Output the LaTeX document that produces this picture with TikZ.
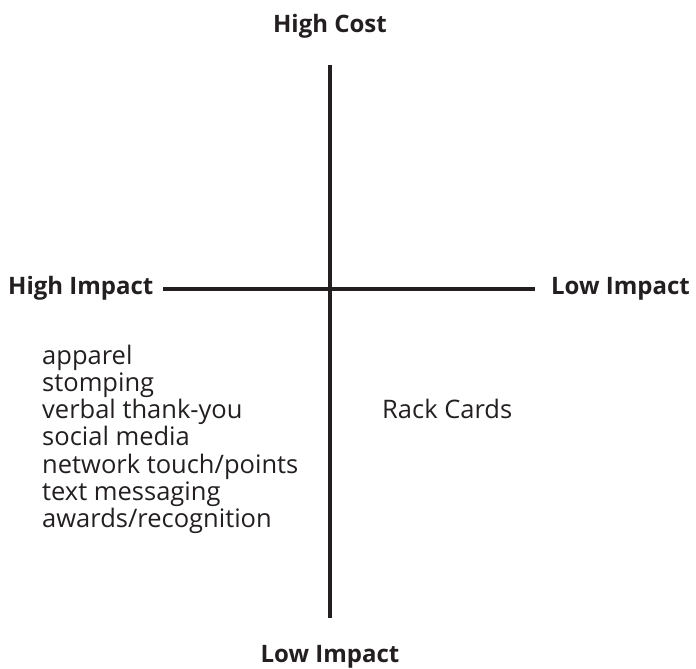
\documentclass[tikz,border=0pt]{standalone}
\usepackage{fontspec}
\setmainfont{Open Sans}
\definecolor{ink}{HTML}{231F20}
\begin{document}
\begin{tikzpicture}[x=1pt,y=-1pt,
  axis/.style={line width=4.2pt, draw=ink},
  head/.style={font=\fontsize{24}{28}\selectfont\bfseries, text=ink, inner sep=0pt},
  item/.style={font=\fontsize{25.5}{28}\selectfont, text=ink, inner sep=0pt, anchor=base west}]
\useasboundingbox (0,0) rectangle (696,669);
\coordinate (vt) at (330,65);
\coordinate (vb) at (330,618);
\coordinate (hl) at (163,289);
\coordinate (hr) at (535,289);
\draw[axis] (vt) -- (vb);
\draw[axis] (hl) -- (hr);
\node[head, anchor=base] (hc) at (330,33) {High Cost};
\node[head, anchor=base west] (hi) at (8,294) {High Impact};
\node[head, anchor=base east] (li) at (690,294) {Low Impact};
\node[head, anchor=base] (lb) at (330,662) {Low Impact};
\node[item] (i1) at (42,364) {apparel};
\node[item] (i2) at (42,391) {stomping};
\node[item] (i3) at (42,418) {verbal thank-you};
\node[item] (i4) at (42,445) {social media};
\node[item] (i5) at (42,473) {network touch/points};
\node[item] (i6) at (42,500) {text messaging};
\node[item] (i7) at (42,527) {awards/recognition};
\node[item] (rc) at (382,418) {Rack Cards};
\end{tikzpicture}
\end{document}
